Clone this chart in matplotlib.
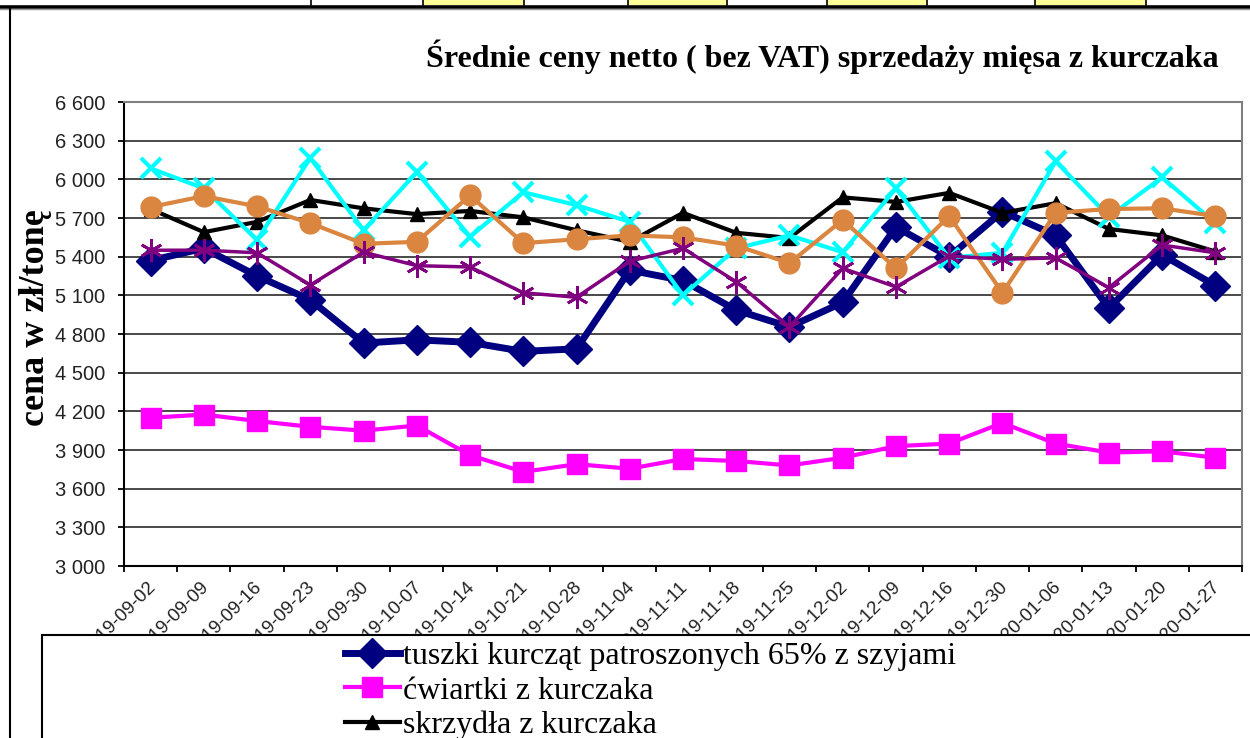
import matplotlib
matplotlib.use('Agg')
import matplotlib.pyplot as plt
from matplotlib.patches import Rectangle
from matplotlib.lines import Line2D
from matplotlib.transforms import ScaledTranslation
import numpy as np

# ---------------- data ----------------
dates = ['2019-09-02', '2019-09-09', '2019-09-16', '2019-09-23', '2019-09-30',
         '2019-10-07', '2019-10-14', '2019-10-21', '2019-10-28', '2019-11-04',
         '2019-11-11', '2019-11-18', '2019-11-25', '2019-12-02', '2019-12-09',
         '2019-12-16', '2019-12-30', '2020-01-06', '2020-01-13', '2020-01-20',
         '2020-01-27']

tuszki = [5370, 5465, 5250, 5065, 4730, 4755, 4735, 4665, 4685, 5295, 5215,
          4985, 4855, 5045, 5630, 5400, 5750, 5565, 5000, 5415, 5175]
cwiartki = [4150, 4175, 4125, 4080, 4050, 4090, 3860, 3730, 3790, 3755, 3830,
            3815, 3780, 3840, 3930, 3950, 4110, 3950, 3880, 3890, 3840]
skrzydla = [5770, 5590, 5670, 5840, 5775, 5730, 5755, 5705, 5605, 5515, 5740,
            5585, 5545, 5860, 5825, 5895, 5740, 5815, 5615, 5565, 5440]
seria4 = [6085, 5930, 5530, 6165, 5605, 6055, 5555, 5900, 5800, 5670, 5100,
          5465, 5565, 5435, 5930, 5390, 5430, 6140, 5710, 6015, 5660]
seria5 = [5785, 5870, 5790, 5660, 5500, 5515, 5875, 5505, 5535, 5565, 5550,
          5485, 5350, 5685, 5310, 5715, 5120, 5740, 5770, 5775, 5715]
seria6 = [5450, 5450, 5430, 5180, 5435, 5330, 5320, 5120, 5085, 5365, 5465,
          5205, 4855, 5310, 5165, 5405, 5380, 5390, 5160, 5490, 5430]

labels = ['tuszki kurcząt patroszonych 65% z szyjami',
          'ćwiartki z kurczaka',
          'skrzydła z kurczaka',
          'filety z kurczaka',
          'udka z kurczaka',
          'podudzia z kurczaka']

yticks = list(range(3000, 6601, 300))
title = 'Średnie ceny netto ( bez VAT) sprzedaży mięsa z kurczaka'
ylabel = 'cena w zł/tonę'

# ---------------- figure ----------------
W, H = 1250, 738
fig = plt.figure(figsize=(12.5, 7.38), dpi=100)
fig.patch.set_facecolor('white')


def fx(px):
    return px / W


def fy(py):
    return 1 - py / H


ax = fig.add_axes([fx(124), fy(566), fx(1242) - fx(124), fy(102) - fy(566)])
x = np.arange(len(dates))

styles = [
    dict(color='#000080', lw=5.0, marker='D', ms=15),
    dict(color='#FF00FF', lw=3.0, marker='s', ms=14),
    dict(color='#000000', lw=3.0, marker='^', ms=10),
    dict(color='#00FFFF', lw=3.0, marker='x', ms=15, mew=3),
    dict(color='#DA8540', lw=3.0, marker='o', ms=15),
    dict(color='#800080', lw=2.5, marker=(6, 2, 0), ms=16, mew=2),
]
series = [tuszki, cwiartki, skrzydla, seria4, seria5, seria6]
handles = []
for s, st, lab in zip(series, styles, labels):
    h, = ax.plot(x, s, label=lab, **st)
    handles.append(h)

ax.set_xlim(-0.5, len(dates) - 0.5)
ax.set_ylim(3000, 6600)
ax.set_yticks(yticks)
ax.set_yticklabels([f"{v:,}".replace(',', ' ') for v in yticks],
                   fontsize=14.5, family='Liberation Sans', color='#222222')
ax.tick_params(axis='y', length=4.3, width=1.3, direction='out', pad=9.4)
ax.yaxis.grid(True, color='#3a3a3a', lw=1.3)
ax.set_axisbelow(True)

ax.set_xticks(np.arange(-0.5, len(dates), 1))
ax.set_xticklabels([])
ax.tick_params(axis='x', which='major', length=4.3, width=1.3, direction='out')
ax.set_xticks(x, minor=True)
ax.set_xticklabels(dates, minor=True, rotation=45, ha='right', va='top',
                   fontsize=13.5, family='Liberation Sans', color='#222222')
ax.tick_params(axis='x', which='minor', length=0, pad=4)
shift = ScaledTranslation(0.08, -0.07, fig.dpi_scale_trans)
for lbl in ax.get_xticklabels(minor=True):
    lbl.set_transform(lbl.get_transform() + shift)

for side in ['left', 'bottom']:
    ax.spines[side].set_color('black')
    ax.spines[side].set_linewidth(1.5)
for side in ['top', 'right']:
    ax.spines[side].set_color('#808080')
    ax.spines[side].set_linewidth(1.5)

# title & y label
fig.text(fx(822), fy(57), title, ha='center', va='center', fontsize=23,
         fontweight='bold', family='Liberation Serif')
fig.text(fx(36), fy(318), ylabel, rotation=90, ha='center', va='center',
         fontsize=26, fontweight='bold', family='Liberation Serif')

# legend box (extends beyond the figure bottom/right)
fig.add_artist(Rectangle((fx(42), fy(800)), 1.2, fy(635) - fy(800),
                         transform=fig.transFigure, facecolor='white',
                         edgecolor='black', lw=1.5, zorder=3))
fig.legend(handles[:3], labels[:3], loc='upper left',
           bbox_to_anchor=(fx(345), fy(642)), frameon=False,
           prop=dict(family='Liberation Serif', size=23),
           handlelength=1.72, handletextpad=0.08, labelspacing=0.15,
           borderpad=0.0, borderaxespad=0.0)

# spreadsheet remnants at the top
cell_edges = [311, 423, 524, 628, 727, 827, 927, 1035, 1146]
yellow = [(423, 524), (628, 727), (827, 927), (1035, 1146)]
for a, b in yellow:
    fig.add_artist(Rectangle((fx(a), fy(5)), fx(b) - fx(a), fy(0) - fy(5),
                             transform=fig.transFigure, facecolor='#FFFF99',
                             edgecolor='none', zorder=2))
for e in cell_edges:
    fig.add_artist(Line2D([fx(e), fx(e)], [fy(0), fy(5)],
                          transform=fig.transFigure, color='black', lw=1.2))
fig.add_artist(Line2D([0, 1], [fy(6.5), fy(6.5)], transform=fig.transFigure,
                      color='black', lw=2.6))
fig.add_artist(Line2D([0, 1], [fy(9), fy(9)], transform=fig.transFigure,
                      color='#999999', lw=1.0))
fig.add_artist(Line2D([fx(10), fx(10)], [fy(9), 0], transform=fig.transFigure,
                      color='black', lw=1.5))

fig.savefig('out.png', dpi=100)
